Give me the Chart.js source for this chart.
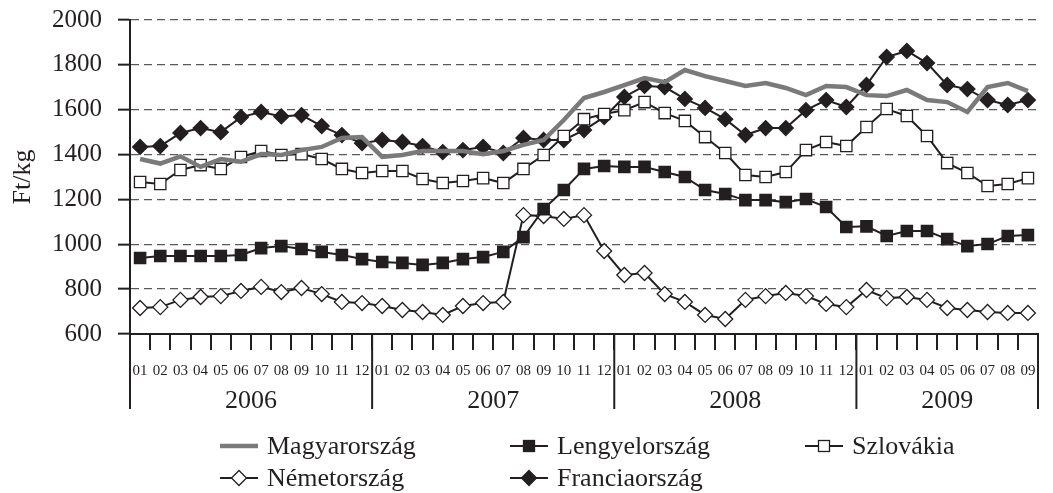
<!DOCTYPE html>
<html>
<head>
<meta charset="utf-8">
<script src="https://cdn.jsdelivr.net/npm/chart.js@4.4.1/dist/chart.umd.min.js"></script>
<style>
  body { margin: 0; background: #fff; }
  #wrap { position: relative; width: 1053px; height: 493px; }
  #legend { position: absolute; left: 0; top: 0; width: 1053px; height: 493px; pointer-events: none; }
  .item { position: absolute; display: flex; align-items: center; font-family: "Liberation Serif", "Times New Roman", serif; font-size: 26px; color: #231f20; }
  .item svg { margin-right: 9px; }
</style>
</head>
<body>
<div id="wrap">
  <canvas id="chart" width="1053" height="493"></canvas>
  <div id="legend"></div>
</div>
<script>
// Data
const months = ["01", "02", "03", "04", "05", "06", "07", "08", "09", "10", "11", "12"];
const years = ["2006", "2007", "2008", "2009"];
const lastYearMonths = 9; // 2009 ends in September

const magyarorszag = [1380, 1360, 1392, 1345, 1380, 1368, 1402, 1398, 1420, 1434, 1474, 1478,
  1390, 1398, 1416, 1416, 1416, 1402, 1416, 1443, 1465, 1554, 1652, 1679,
  1710, 1741, 1723, 1777, 1750, 1728, 1706, 1719, 1697, 1665, 1706, 1701,
  1665, 1661, 1688, 1643, 1634, 1590, 1701, 1719, 1683];
const lengyelorszag = [939, 948, 948, 948, 948, 952, 983, 992, 979, 966, 952, 934,
  921, 917, 908, 917, 934, 943, 966, 1032, 1157, 1242, 1336, 1349,
  1345, 1345, 1322, 1300, 1242, 1224, 1197, 1197, 1188, 1202, 1166, 1077,
  1080, 1037, 1059, 1059, 1023, 992, 1001, 1037, 1041];
const szlovakia = [1278, 1269, 1331, 1353, 1336, 1389, 1416, 1398, 1402, 1380, 1336, 1318,
  1327, 1327, 1291, 1273, 1282, 1295, 1273, 1336, 1398, 1483, 1558, 1581,
  1598, 1634, 1585, 1550, 1478, 1407, 1309, 1300, 1322, 1420, 1456, 1438,
  1523, 1603, 1572, 1483, 1362, 1318, 1260, 1269, 1295];
const nemetorszag = [716, 720, 752, 765, 769, 792, 810, 787, 805, 778, 743, 738,
  725, 707, 698, 685, 725, 738, 743, 1130, 1126, 1113, 1130, 970,
  863, 872, 778, 743, 685, 667, 752, 769, 783, 769, 734, 720,
  796, 760, 765, 752, 716, 707, 698, 694, 694];
const franciaorszag = [1434, 1438, 1496, 1518, 1500, 1567, 1590, 1570, 1576, 1527, 1487, 1451,
  1465, 1456, 1438, 1411, 1420, 1434, 1407, 1474, 1465, 1465, 1509, 1567,
  1657, 1706, 1701, 1648, 1608, 1558, 1487, 1518, 1518, 1598, 1643, 1612,
  1710, 1835, 1862, 1808, 1710, 1692, 1643, 1621, 1643];

const yMin = 600, yMax = 2000, yStep = 200;

// Styles
const ink = "#231f20";
const gray = "#7a7a7a";
const serif = '"Liberation Serif", "Times New Roman", serif';

// month labels for every point, years get their own row below
const labels = [];
years.forEach((y, i) => {
  const n = i === years.length - 1 ? lastYearMonths : 12;
  for (let m = 0; m < n; m++) labels.push(months[m]);
});

const series = [
  { label: "Magyarország", data: magyarorszag, color: gray, width: 4.5, point: false },
  { label: "Lengyelország", data: lengyelorszag, color: ink, width: 2, point: "rect", fill: ink },
  { label: "Szlovákia", data: szlovakia, color: ink, width: 2, point: "rect", fill: "#fff" },
  { label: "Németország", data: nemetorszag, color: ink, width: 2, point: "rectRot", fill: "#fff" },
  { label: "Franciaország", data: franciaorszag, color: ink, width: 2, point: "rectRot", fill: ink },
];

// Year row and long separators under the month ticks
const yearAxisPlugin = {
  id: "yearAxis",
  afterDraw(chart) {
    const xs = chart.scales.x;
    const ctx = chart.ctx;
    const step = xs.getPixelForValue(1) - xs.getPixelForValue(0);
    const edge = i => xs.getPixelForValue(0) + (i - 0.5) * step;
    const top = chart.chartArea.bottom;
    const bottom = 409;
    let start = 0;
    const bounds = [0];
    years.forEach((y, i) => {
      start += i === years.length - 1 ? lastYearMonths : 12;
      bounds.push(start);
    });
    ctx.save();
    ctx.strokeStyle = ink;
    ctx.lineWidth = 2;
    bounds.forEach(b => {
      ctx.beginPath();
      ctx.moveTo(edge(b), top);
      ctx.lineTo(edge(b), bottom);
      ctx.stroke();
    });
    ctx.fillStyle = ink;
    ctx.font = "26px " + serif;
    ctx.textAlign = "center";
    ctx.textBaseline = "middle";
    years.forEach((y, i) => {
      ctx.fillText(y, (edge(bounds[i]) + edge(bounds[i + 1])) / 2, 401);
    });
    ctx.restore();
  }
};

const ctx = document.getElementById("chart").getContext("2d");
const chart = new Chart(ctx, {
  type: "line",
  data: {
    labels: labels,
    datasets: series.map(s => ({
      label: s.label,
      data: s.data,
      borderColor: s.color,
      borderWidth: s.width,
      backgroundColor: s.fill || s.color,
      pointStyle: s.point || "circle",
      pointRadius: s.point ? (s.point === "rect" ? 8 : 7.5) : 0,
      pointBorderColor: ink,
      pointBackgroundColor: s.fill || s.color,
      pointBorderWidth: 1.3,
      tension: 0,
    }))
  },
  options: {
    responsive: false,
    animation: false,
    layout: { padding: { top: 20, right: 15, bottom: 99, left: 0 } },
    plugins: {
      legend: { display: false },
      tooltip: { enabled: false },
    },
    scales: {
      x: {
        offset: true,
        grid: { offset: true, drawOnChartArea: false, color: ink, lineWidth: 2, tickLength: 16 },
        border: { color: ink, width: 2 },
        ticks: { color: ink, font: { family: serif, size: 15 }, maxRotation: 0, autoSkip: false, padding: 12 },
        afterFit: scale => { scale.height = 60; },
      },
      y: {
        min: yMin,
        max: yMax,
        ticks: { stepSize: yStep, color: ink, font: { family: serif, size: 25 }, padding: 16, callback: v => String(v) },
        grid: { color: "#5a5a5a", lineWidth: 1.3, tickLength: 12, tickColor: ink, tickWidth: 2, tickBorderDash: [] },
        border: { color: ink, width: 2, dash: [8, 5] },
        title: { display: true, text: "Ft/kg", color: ink, font: { family: serif, size: 26 }, padding: { top: 8, bottom: 0 } },
        afterFit: scale => { scale.width = 130; scale.paddingTop = 0; },
      }
    }
  },
  plugins: [yearAxisPlugin]
});

// Legend (two rows, three columns like the original)
const legendPos = [
  { x: 220, y: 447 }, { x: 510, y: 447 }, { x: 805, y: 447 },
  { x: 220, y: 479 }, { x: 510, y: 479 },
];
const legendEl = document.getElementById("legend");
series.forEach((s, i) => {
  let mark = "";
  if (s.point === "rect") mark = `<rect x="13.5" y="6.5" width="11" height="11" fill="${s.fill}" stroke="${ink}" stroke-width="1.3"/>`;
  if (s.point === "rectRot") mark = `<polygon points="19,4.5 26.5,12 19,19.5 11.5,12" fill="${s.fill}" stroke="${ink}" stroke-width="1.3"/>`;
  const item = document.createElement("div");
  item.className = "item";
  item.style.left = legendPos[i].x + "px";
  item.style.top = (legendPos[i].y - 16) + "px";
  item.innerHTML = `<svg width="38" height="24"><line x1="0" y1="12" x2="38" y2="12" stroke="${s.color}" stroke-width="${s.width}"/>${mark}</svg>${s.label}`;
  legendEl.appendChild(item);
});
</script>
</body>
</html>
